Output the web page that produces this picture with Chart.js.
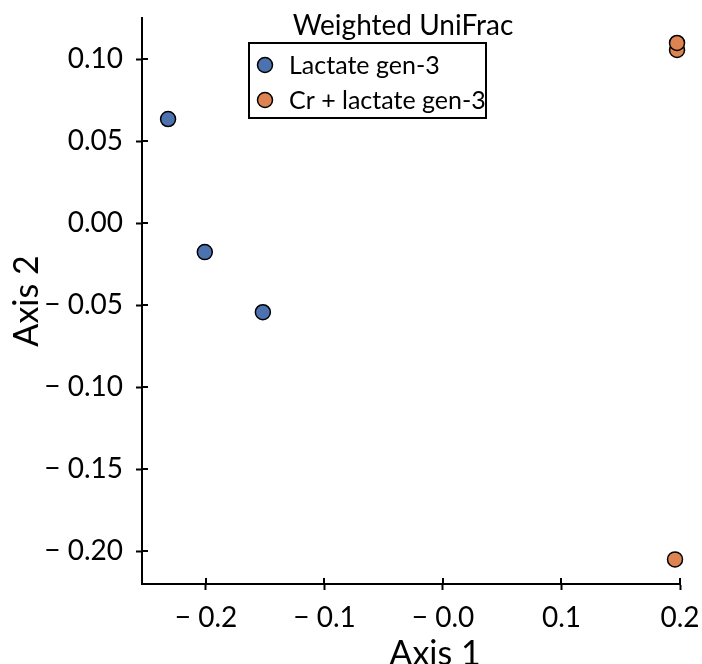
<!DOCTYPE html>
<html>
<head>
<meta charset="utf-8">
<script src="https://cdn.jsdelivr.net/npm/chart.js@4.4.0/dist/chart.umd.min.js"></script>
<style>
  html, body { margin: 0; padding: 0; background: #fff; }
  canvas { display: block; }
</style>
</head>
<body>
<canvas id="pcoa" width="702" height="664"></canvas>
<script>
// PCoA, weighted UniFrac — two groups of samples
const groupNames = ['Lactate gen-3', 'Cr + lactate gen-3'];
const lactateX = [-0.232, -0.201, -0.152];
const lactateY = [0.0634, -0.0177, -0.0543];
const crLactateX = [0.1975, 0.1975, 0.1958];
const crLactateY = [0.1055, 0.1098, -0.2050];

const xTickValues = [-0.2, -0.1, 0.0, 0.1, 0.2];
const xTickLabels = ['\u2212 0.2', '\u2212 0.1', '\u2212 0.0', '0.1', '0.2'];
const yTickValues = [-0.20, -0.15, -0.10, -0.05, 0.00, 0.05, 0.10];
const yTickLabels = ['\u2212 0.20', '\u2212 0.15', '\u2212 0.10', '\u2212 0.05', '0.00', '0.05', '0.10'];

const BLUE = '#4C72B0';
const ORANGE = '#DD8452';
const INK = '#000';

const toPoints = (xs, ys) => xs.map((x, i) => ({ x: x, y: ys[i] }));

Chart.defaults.font.family = 'Lato';
Chart.defaults.color = INK;

// inner half of the tick marks, axis titles and the framed legend
const decorations = {
  id: 'decorations',
  afterDraw(chart) {
    const ctx = chart.ctx;
    const area = chart.chartArea;
    const xs = chart.scales.x;
    const ys = chart.scales.y;
    ctx.save();
    ctx.strokeStyle = INK;
    ctx.lineWidth = 2;
    ctx.beginPath();
    xs.ticks.forEach(t => {
      const px = Math.round(xs.getPixelForValue(t.value));
      ctx.moveTo(px, area.bottom - 6);
      ctx.lineTo(px, area.bottom);
    });
    ys.ticks.forEach(t => {
      const py = Math.round(ys.getPixelForValue(t.value));
      ctx.moveTo(area.left, py);
      ctx.lineTo(area.left + 6, py);
    });
    ctx.stroke();

    // axis titles
    ctx.fillStyle = INK;
    ctx.font = '34px Lato';
    ctx.textAlign = 'center';
    ctx.textBaseline = 'alphabetic';
    ctx.fillText('Axis 1', (area.left + area.right) / 2 + 24, 665);
    ctx.save();
    ctx.translate(38, (area.top + area.bottom) / 2);
    ctx.rotate(-Math.PI / 2);
    ctx.fillText('Axis 2', 0, 0);
    ctx.restore();

    // legend
    const bx = area.left + 107, by = area.top + 25, bw = 237, bh = 75;
    ctx.font = '28px Lato';
    ctx.textAlign = 'center';
    ctx.fillText('Weighted UniFrac', bx + 154, by - 8);
    ctx.fillStyle = '#fff';
    ctx.fillRect(bx, by, bw, bh);
    ctx.lineWidth = 2;
    ctx.strokeRect(bx, by, bw, bh);
    ctx.font = '25px Lato';
    ctx.textAlign = 'left';
    ctx.textBaseline = 'middle';
    chart.data.datasets.forEach((ds, i) => {
      const cy = by + 22 + i * 35;
      ctx.beginPath();
      ctx.arc(bx + 16, cy, 7.5, 0, Math.PI * 2);
      ctx.fillStyle = ds.backgroundColor;
      ctx.fill();
      ctx.lineWidth = 1.5;
      ctx.stroke();
      ctx.fillStyle = INK;
      ctx.fillText(ds.label, bx + 40, cy + 1);
    });
    ctx.restore();
  }
};

new Chart(document.getElementById('pcoa'), {
  type: 'scatter',
  data: {
    datasets: [
      {
        label: groupNames[0],
        data: toPoints(lactateX, lactateY),
        backgroundColor: BLUE,
        borderColor: INK,
        borderWidth: 1.5,
        pointRadius: 7.5,
        clip: false,
      },
      {
        label: groupNames[1],
        data: toPoints(crLactateX, crLactateY),
        backgroundColor: ORANGE,
        borderColor: INK,
        borderWidth: 1.5,
        pointRadius: 7.5,
        clip: false,
      },
    ],
  },
  options: {
    responsive: false,
    animation: false,
    layout: { padding: { top: 18, right: 22, left: 0, bottom: 0 } },
    plugins: {
      legend: { display: false },
      tooltip: { enabled: false },
    },
    scales: {
      x: {
        type: 'linear',
        min: -0.254,
        max: 0.2,
        border: { color: INK, width: 2 },
        grid: { drawOnChartArea: false, tickLength: 6, tickWidth: 2, tickColor: INK },
        afterBuildTicks: (s) => { s.ticks = xTickValues.map(v => ({ value: v })); },
        afterFit: (s) => { s.height = 80; s.paddingLeft = 0; s.paddingRight = 0; },
        ticks: {
          font: { size: 28 },
          color: INK,
          padding: 11,
          maxRotation: 0,
          callback: (v, i) => xTickLabels[i],
        },
      },
      y: {
        type: 'linear',
        min: -0.220,
        max: 0.125,
        border: { color: INK, width: 2 },
        grid: { drawOnChartArea: false, tickLength: 6, tickWidth: 2, tickColor: INK },
        afterBuildTicks: (s) => { s.ticks = yTickValues.map(v => ({ value: v })); },
        afterFit: (s) => { s.width = 142; s.paddingTop = 0; s.paddingBottom = 0; },
        ticks: {
          font: { size: 28 },
          color: INK,
          padding: 13,
          callback: (v, i) => yTickLabels[i],
        },
      },
    },
  },
  plugins: [decorations],
});
</script>
</body>
</html>
